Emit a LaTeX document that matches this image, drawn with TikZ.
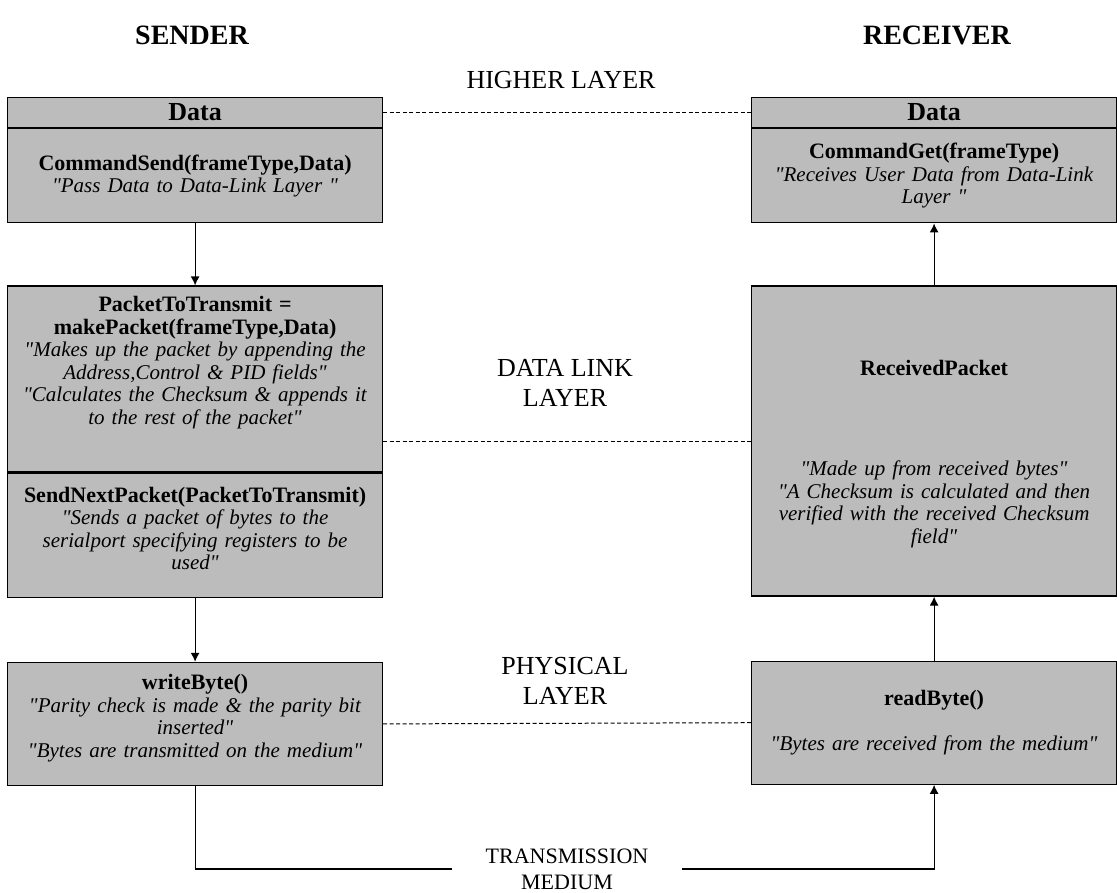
\documentclass[tikz,border=0pt]{standalone}
\usepackage{fontspec}
\setmainfont{Liberation Serif}[Ligatures=TeXOff]
\usepackage{xcolor}
\usepackage{tikz}
\usetikzlibrary{positioning, arrows.meta}
\definecolor{boxgray}{RGB}{188,188,188}
\newcommand{\boxfont}{\fontsize{21}{22.5}\selectfont}
\newcommand{\fn}[1]{{\bfseries\fontsize{22}{22.5}\selectfont #1}}
\newcommand{\dq}{\char34\relax}
\newcommand{\padbelow}[1]{\rule[-#1]{0pt}{#1}}
\newcommand{\padabove}[1]{\rule{0pt}{#1}}
\tikzstyle{layerbox} = [rectangle, draw=black, fill=boxgray, line width=1.2pt, inner ysep=0pt, inner xsep=2pt, align=center, font=\boxfont]
\tikzstyle{sendbox} = [layerbox, text width=371pt]
\tikzstyle{recvbox} = [layerbox, text width=361pt]
\tikzstyle{header} = [minimum height=30pt, font=\bfseries\fontsize{26}{28}\selectfont]
\tikzstyle{arrow} = [line width=1.2pt, -{Latex[length=9pt,width=9pt]}]
\tikzstyle{layerlink} = [line width=1pt, dash pattern=on 4pt off 2.5pt]
\tikzstyle{layerlabel} = [align=center, font=\fontsize{26}{30}\selectfont]
\tikzstyle{side} = [font=\bfseries\fontsize{28}{30}\selectfont]

\begin{document}
\begin{tikzpicture}[x=1pt, y=1pt]
        \useasboundingbox (0,0) rectangle (1117,-892);
        % column titles
        \node (sender) [side] at (192,-35) {SENDER};
        \node (receiver) [side] at (937,-35) {RECEIVER};

        % sender side
        \node (senddata) [sendbox, header, anchor=north west] at (7,-97) {Data};
        \node (cmdsend) [sendbox, minimum height=94pt, below=0pt of senddata] {\fn{CommandSend(frameType,Data)}\\ \textit{\dq Pass Data to Data-Link Layer \dq}};
        \node (makepacket) [sendbox, minimum height=186pt, below=62pt of cmdsend] {\fn{PacketToTransmit =}\\ \fn{makePacket(frameType,Data)}\\ \textit{\dq Makes up the packet by appending the}\\ \textit{Address,Control \& PID fields\dq}\\ \textit{\dq Calculates the Checksum \& appends it}\\ \textit{to the rest of the packet\dq}\padbelow{37pt}};
        \node (sendnext) [sendbox, minimum height=124pt, below=0pt of makepacket] {\fn{SendNextPacket(PacketToTransmit)}\\ \textit{\dq Sends a packet of bytes to the}\\ \textit{serialport specifying registers to be}\\ \textit{used\dq}\padbelow{14pt}};
        \node (writebyte) [sendbox, minimum height=123pt, below=64pt of sendnext] {\fn{writeByte()}\\ \textit{\dq Parity check is made \& the parity bit}\\ \textit{inserted\dq}\\ \textit{\dq Bytes are transmitted on the medium\dq}\padbelow{16pt}};

        % receiver side
        \node (recvdata) [recvbox, header, anchor=north west] at (751,-97) {Data};
        \node (cmdget) [recvbox, minimum height=94pt, below=0pt of recvdata] {\fn{CommandGet(frameType)}\\ \textit{\dq Receives User Data from Data-Link}\\ \textit{Layer \dq}};
        \node (received) [recvbox, minimum height=310pt, below=62pt of cmdget] {\padabove{41pt}\fn{ReceivedPacket}\\[78pt] \textit{\dq Made up from received bytes\dq}\\ \textit{\dq A Checksum is calculated and then}\\ \textit{verified with the received Checksum}\\ \textit{field\dq}};
        \node (readbyte) [recvbox, minimum height=123pt, below=64pt of received] {\fn{readByte()}\\[22pt] \textit{\dq Bytes are received from the medium\dq}};

        % layer names
        \node (higher) [layerlabel] at (561,-80) {HIGHER LAYER};
        \node (datalink) [layerlabel] at (565,-383) {DATA LINK\\LAYER};
        \node (physical) [layerlabel] at (565,-681) {PHYSICAL\\LAYER};
        \node (medium) [align=center, font=\fontsize{22}{26}\selectfont, inner xsep=34pt] at (567,-869) {TRANSMISSION\\MEDIUM};

        \draw [arrow] (cmdsend) -- (makepacket);
        \draw [arrow] (sendnext) -- (writebyte);
        \draw [arrow] (received) -- (cmdget);
        \draw [arrow] (readbyte) -- (received);
        \draw [line width=1.2pt] (writebyte.south) |- (medium.west);
        \draw [arrow] (medium.east) -| (readbyte.south);

        \draw [layerlink] (senddata.east) -- (recvdata.west);
        \draw [layerlink] (received.west -| makepacket.east) -- (received.west);
        \draw [layerlink] (writebyte.east) -- (readbyte.west);
    \end{tikzpicture}
\end{document}
